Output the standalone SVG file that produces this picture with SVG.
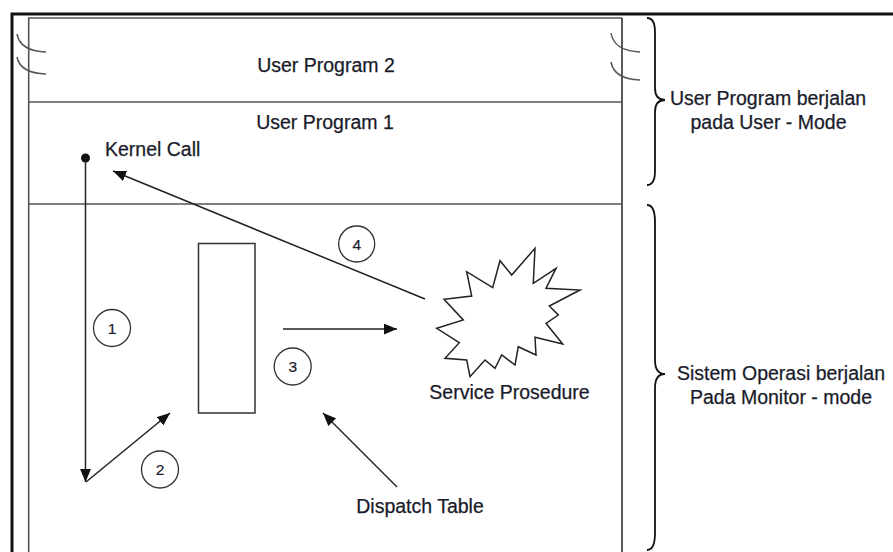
<svg xmlns="http://www.w3.org/2000/svg" width="893" height="552" viewBox="0 0 893 552">
<style>
.t{font-family:"Liberation Sans",Arial,sans-serif;font-size:19.5px;fill:#1a1b2a;stroke:#1a1b2a;stroke-width:0.25}
.n{font-family:"Liberation Sans",Arial,sans-serif;font-size:15.5px;fill:#1a1b2a;stroke:#1a1b2a;stroke-width:0.2;text-anchor:middle}
.ln{stroke:#222;stroke-width:1.5;fill:none}
.in{stroke:#555;stroke-width:1.6;fill:none}
.c{stroke:#333;stroke-width:1.3;fill:#fff}
</style>
<defs>
<marker id="ah" viewBox="0 0 12 10" refX="12" refY="5" markerWidth="13" markerHeight="11" markerUnits="userSpaceOnUse" orient="auto">
<path d="M0,0 L12,5 L0,10 Z" fill="#111"/>
</marker>
</defs>
<rect width="893" height="552" fill="#fff"/>
<g id="frame">
<path d="M12,552 L12,14 L893,14" stroke="#111" stroke-width="3" fill="none"/>
<path d="M28.7,552 L28.7,18 L622,18" class="in"/>
<path d="M622,18 L622,552" stroke="#222" stroke-width="1.5" fill="none"/>
<line x1="28.7" y1="102" x2="622" y2="102" class="in"/>
<line x1="28.7" y1="204" x2="622" y2="204" class="in"/>
<path d="M17,34 Q20,51 46,52 M17,57 Q20,73 46,74" stroke="#555" stroke-width="1.5" fill="none"/>
<path d="M611,33 Q614,51 640,52 M611,62 Q614,79 640,80" stroke="#555" stroke-width="1.5" fill="none"/>
</g>
<g id="user-program-2"><text class="t" x="326" y="72" text-anchor="middle">User Program 2</text></g>
<g id="user-program-1"><text class="t" x="325" y="129" text-anchor="middle">User Program 1</text></g>
<g id="kernel-call">
<circle cx="85.5" cy="158" r="4.5" fill="#111"/>
<text class="t" x="105" y="156">Kernel Call</text>
</g>
<g id="dispatch-table-box"><rect x="198.5" y="243.5" width="56.5" height="169.5" fill="none" stroke="#333" stroke-width="1.5"/></g>
<g id="dispatch-table-label"><text class="t" x="420" y="513" text-anchor="middle">Dispatch Table</text></g>
<g id="service-prosedure">
<path d="M535,248.3 L533.3,283.3 L556,268.3 L546,288.3 L580,290 L549.3,306 L558.3,315 L546,323.3 L562.7,344 L535,337.3 L536,355 L518.3,346.7 L515,365 L501.7,355 L495,368.3 L485,360 L470,376.7 L466.7,360 L445,358.3 L459.3,342.7 L436.7,328.3 L463.3,320 L444,299.3 L471.7,296 L466.7,271.7 L492.7,287.7 L500,260.7 L511.7,275 Z" fill="#fff" stroke="#222" stroke-width="1.5" stroke-linejoin="miter"/>
<text class="t" x="509.5" y="399" text-anchor="middle">Service Prosedure</text>
</g>
<g id="connectors">
<line x1="85.5" y1="158" x2="85.5" y2="482" class="ln" marker-end="url(#ah)"/>
<line x1="86" y1="482" x2="170" y2="413" class="ln" marker-end="url(#ah)"/>
<line x1="283" y1="329" x2="397" y2="329" class="ln" marker-end="url(#ah)"/>
<line x1="425" y1="299" x2="113" y2="171" class="ln" marker-end="url(#ah)"/>
<line x1="397" y1="487" x2="323" y2="413" class="ln" marker-end="url(#ah)"/>
</g>
<g id="step-1"><circle cx="112" cy="328" r="18.5" class="c"/><text class="n" x="112" y="333.5">1</text></g>
<g id="step-2"><circle cx="160" cy="469.5" r="18.5" class="c"/><text class="n" x="160" y="475">2</text></g>
<g id="step-3"><circle cx="292.7" cy="366.5" r="18.5" class="c"/><text class="n" x="292.7" y="372">3</text></g>
<g id="step-4"><circle cx="356.7" cy="244" r="18" class="c"/><text class="n" x="356.7" y="249.5">4</text></g>
<g id="user-mode-brace">
<path d="M647,18 Q655,18 655,32 L655,88 Q655,100 665,100 Q655,100 655,112 L655,171 Q655,185 647,185" stroke="#111" stroke-width="1.8" fill="none"/>
<text class="t" x="768" y="105" text-anchor="middle">User Program berjalan</text>
<text class="t" x="768.5" y="129" text-anchor="middle">pada User - Mode</text>
</g>
<g id="monitor-mode-brace">
<path d="M647,205 Q655,205 655,222 L655,360 Q655,374 665,374 Q655,374 655,388 L655,533 Q655,550 647,550" stroke="#111" stroke-width="1.8" fill="none"/>
<text class="t" x="781" y="380" text-anchor="middle">Sistem Operasi berjalan</text>
<text class="t" x="781" y="404" text-anchor="middle">Pada Monitor - mode</text>
</g>
</svg>
